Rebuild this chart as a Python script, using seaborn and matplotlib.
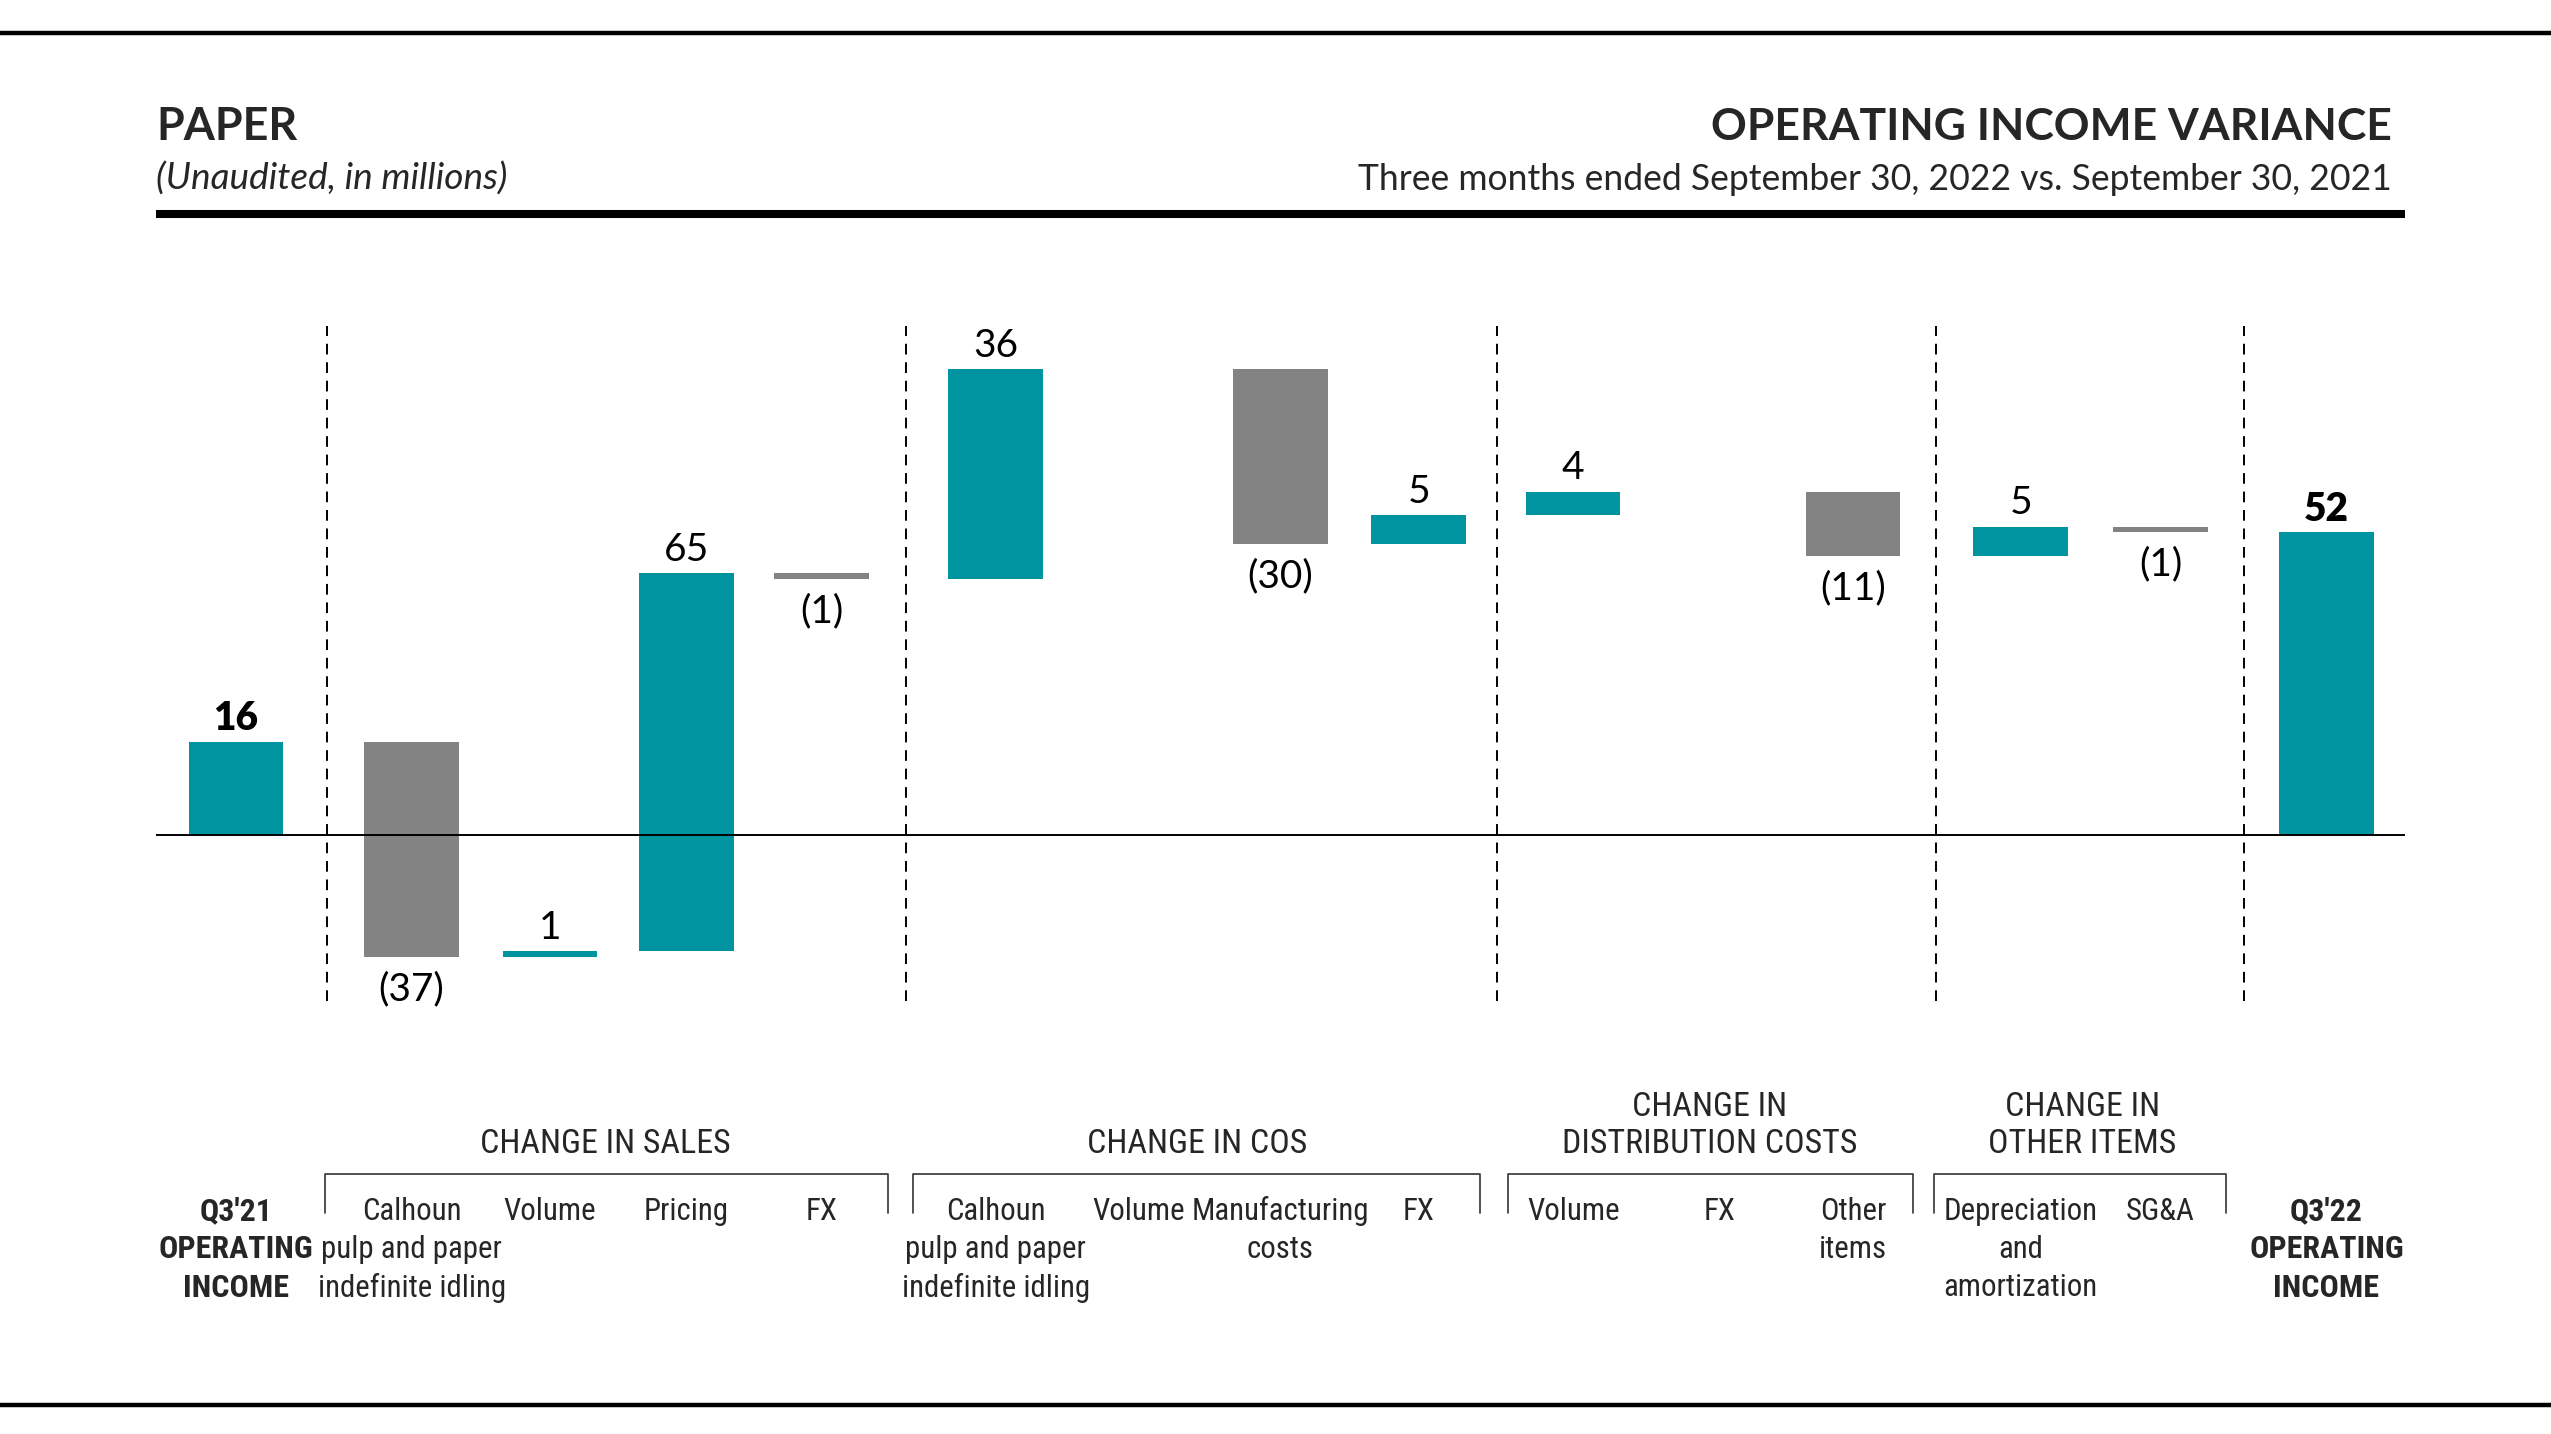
import matplotlib
matplotlib.use("Agg")
import matplotlib.pyplot as plt
from matplotlib import font_manager as fm
from matplotlib.lines import Line2D
import numpy as np
import pandas as pd
import seaborn as sns

# ---------------- data ----------------
labels = ["Q3'21\nOPERATING\nINCOME",
          "Calhoun\npulp and paper\nindefinite idling", "Volume", "Pricing", "FX",
          "Calhoun\npulp and paper\nindefinite idling", "Volume", "Manufacturing\ncosts", "FX",
          "Volume", "FX", "Other\nitems",
          "Depreciation\nand\namortization", "SG&A",
          "Q3'22\nOPERATING\nINCOME"]
values = [16, -37, 1, 65, -1, 36, 0, -30, 5, 4, 0, -11, 5, -1, 52]
kinds = ["total", "delta", "delta", "delta", "delta", "delta", "delta", "delta",
         "delta", "delta", "delta", "delta", "delta", "delta", "total"]
groups = ["CHANGE IN SALES", "CHANGE IN COS", "CHANGE IN\nDISTRIBUTION COSTS",
          "CHANGE IN\nOTHER ITEMS"]
title_left = "PAPER"
subtitle_left = "(Unaudited, in millions)"
title_right = "OPERATING INCOME VARIANCE"
subtitle_right = "Three months ended September 30, 2022 vs. September 30, 2021"

# ---------------- layout (reference pixel grid 1568 x 881) ----------------
W0, H0 = 1568.0, 881.0
xpos = [145, 253, 338, 422, 505, 612, 700, 787, 872, 967, 1057, 1139, 1242, 1328, 1430]
group_spans = [(200, 546), (561, 910), (927, 1176), (1189, 1368)]
group_centers = [372, 736, 1051, 1280]
dividers = [201, 557, 920, 1190, 1379]
BAR_W = 58
TEAL = "#0093A0"
GRAY = "#838383"
TXT_SHIFT = 2.0  # small downward nudge for text centres

sns.set_theme(style="white")

names = {f.name for f in fm.fontManager.ttflist}
def pick(cands, default="DejaVu Sans"):
    for c in cands:
        if c in names:
            return c
    return default

MAIN = pick(["Lato", "Open Sans", "Noto Sans", "DejaVu Sans"])
cond_cands = ["Roboto Condensed", "Open Sans Condensed", "Liberation Sans Narrow",
              "Noto Sans Condensed", "DejaVu Sans Condensed"]
cond_cands += sorted(n for n in names if ("Condensed" in n or "Narrow" in n) and "Mono" not in n)
COND = pick(cond_cands, default=pick(["Roboto", "Lato", "DejaVu Sans"]))
plt.rcParams["font.family"] = [MAIN, "DejaVu Sans"]

fig = plt.figure(figsize=(25.51, 14.34), dpi=100)
fig.patch.set_facecolor("white")
renderer = fig.canvas.get_renderer()
SC = 2551 / W0

def fx(x):
    return x / W0
def fy(y):
    return 1 - y / H0
def ty(y):
    return fy(y + TXT_SHIFT)

def fit(text, target_w, family, weight="normal", style="normal", base=20):
    t = fig.text(0, 0, text, fontsize=base, family=family, weight=weight, style=style)
    w = max(t.get_window_extent(renderer).width, 1)
    t.remove()
    return base * target_w * SC / w

# ---------------- main axes ----------------
ax_top, ax_bot = 200, 615
ax = fig.add_axes([fx(96), fy(ax_bot), fx(1478) - fx(96), (ax_bot - ax_top) / H0])
zero_y = 513
px_per_unit = 3.576
ymax = (zero_y - ax_top) / px_per_unit
ymin = (zero_y - ax_bot) / px_per_unit

# waterfall geometry
lo, hi = [], []
run = 0
for v, k in zip(values, kinds):
    if k == "total":
        lo.append(0); hi.append(v); run = v
    else:
        a, b = run, run + v
        lo.append(min(a, b)); hi.append(max(a, b)); run = b

df = pd.DataFrame({"x": xpos, "label": labels, "value": values, "kind": kinds,
                   "lo": lo, "hi": hi})
df["dir"] = np.where((df["kind"] == "total") | (df["value"] > 0), "up", "down")
bars = df[df["value"] != 0].reset_index(drop=True)

sns.barplot(data=bars, x="x", y="hi", hue="dir", palette={"up": TEAL, "down": GRAY},
            native_scale=True, dodge=False, errorbar=None, legend=False,
            saturation=1, linewidth=0, ax=ax)

# place each bar between its running bounds
for p in ax.patches:
    c = p.get_x() + p.get_width() / 2
    i = int(np.argmin(np.abs(bars["x"].values - c)))
    r = bars.iloc[i]
    p.set_x(r["x"] - BAR_W / 2)
    p.set_width(BAR_W)
    p.set_y(r["lo"])
    p.set_height(r["hi"] - r["lo"])

ax.set_xlim(96, 1478)
ax.set_ylim(ymin, ymax)
ax.axis("off")
ax.axhline(0, color="black", lw=1.4, zorder=5)
for d in dividers:
    ax.axvline(d, color="black", lw=1.4, ls=(0, (5.5, 4)), zorder=1)

# value labels
for _, r in bars.iterrows():
    v = r["value"]
    if r["kind"] == "total":
        ax.annotate(f"{v}", (r["x"], r["hi"]), xytext=(0, 16.8), textcoords="offset points",
                    ha="center", va="center", fontsize=28, fontweight="heavy",
                    family=MAIN, color="black")
    elif v > 0:
        ax.annotate(f"{v}", (r["x"], r["hi"]), xytext=(0, 16.8), textcoords="offset points",
                    ha="center", va="center", fontsize=28, family=MAIN, color="black")
    else:
        ax.annotate(f"({-v})", (r["x"], r["lo"]), xytext=(0, -23.2), textcoords="offset points",
                    ha="center", va="center", fontsize=28, family=MAIN, color="black")

# ---------------- header ----------------
def hline(x0, x1, y, lw):
    fig.add_artist(Line2D([fx(x0), fx(x1)], [fy(y), fy(y)], color="black", lw=lw,
                          transform=fig.transFigure, solid_capstyle="butt"))

hline(0, W0, 20, 3.2)
hline(0, W0, 863, 3.2)
hline(96, 1478, 131.5, 5.8)

fs = fit(title_left, 87, MAIN, weight="bold")
fig.text(fx(96), ty(76), title_left, fontsize=fs, weight="bold", family=MAIN,
         ha="left", va="center")
fs = fit(title_right, 417, MAIN, weight="bold")
fig.text(fx(1470), ty(76), title_right, fontsize=fs, weight="bold", family=MAIN,
         ha="right", va="center")
fs = fit(subtitle_left, 216, MAIN, style="italic")
fig.text(fx(96), ty(108), subtitle_left, fontsize=fs, style="italic", family=MAIN,
         ha="left", va="center")
fs = fit(subtitle_right, 637, MAIN)
fig.text(fx(1470), ty(108), subtitle_right, fontsize=fs, family=MAIN,
         ha="right", va="center")

# ---------------- category labels ----------------
cat_fs = fit("Calhoun", 61, COND)
tot_fs = fit("OPERATING", 95, COND, weight="bold")
grp_fs = fit("CHANGE IN SALES", 154, COND)
line_y = [742, 765.5, 789]
for _, r in df.iterrows():
    bold = r["kind"] == "total"
    for j, line in enumerate(r["label"].split("\n")):
        fig.text(fx(r["x"]), ty(line_y[j]), line, ha="center", va="center",
                 fontsize=tot_fs if bold else cat_fs,
                 weight="bold" if bold else "normal", family=COND)

for (x0, x1), gc, g in zip(group_spans, group_centers, groups):
    fig.add_artist(Line2D([fx(x0), fx(x0), fx(x1), fx(x1)],
                          [fy(745), fy(721), fy(721), fy(745)], color="#333333", lw=1.2,
                          transform=fig.transFigure))
    glines = g.split("\n")
    ys = [701] if len(glines) == 1 else [678, 701]
    for gl, yy in zip(glines, ys):
        fig.text(fx(gc), ty(yy), gl, ha="center", va="center", fontsize=grp_fs,
                 family=COND)

fig.savefig("out.png", dpi=100, facecolor="white")
